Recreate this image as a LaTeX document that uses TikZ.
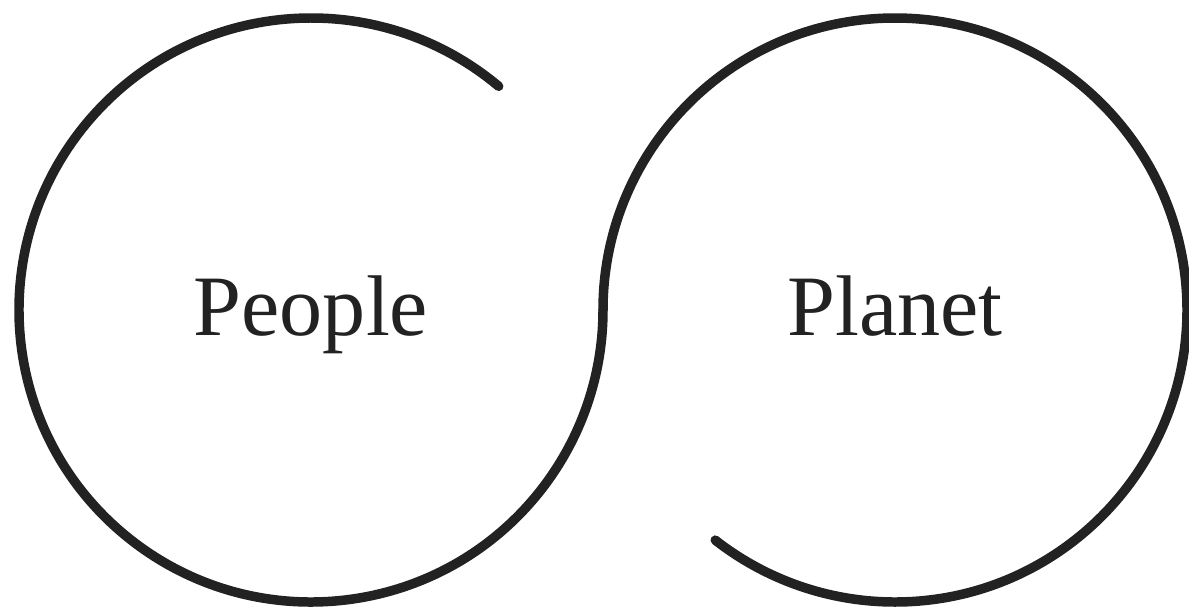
\documentclass[tikz,border=0pt]{standalone}
\usepackage{fontspec}
\setmainfont{Liberation Serif}
\usepackage{xcolor}
\usepackage{tikz}
\usetikzlibrary{positioning, calc}
\definecolor{inkgray}{RGB}{34,34,34}

\begin{document}
\begin{tikzpicture}[
				ring/.style={draw=inkgray, line width=2.7pt, line cap=round},
				word/.style={font=\fontsize{24.5}{29}\selectfont, color=inkgray, anchor=base}
				]
				\useasboundingbox (0,0) rectangle (11.89,6.11);
				
				% Centres
				\coordinate (peopleC) at (3.11,3.01);
				\coordinate (planetC) at (8.95,3.01);
				
				% Nodes
				\node[word] (people) at ($(peopleC)+(0,-0.25)$) {People};
				\node[word] (planet) at ($(planetC)+(0,-0.25)$) {Planet};
				
				% Arcs
				\draw[ring] (peopleC) ++(50:2.92) arc[start angle=50, end angle=360, radius=2.92];
				\draw[ring] (planetC) ++(180:2.92) arc[start angle=180, end angle=-128, radius=2.92];
				
			\end{tikzpicture}
\end{document}
